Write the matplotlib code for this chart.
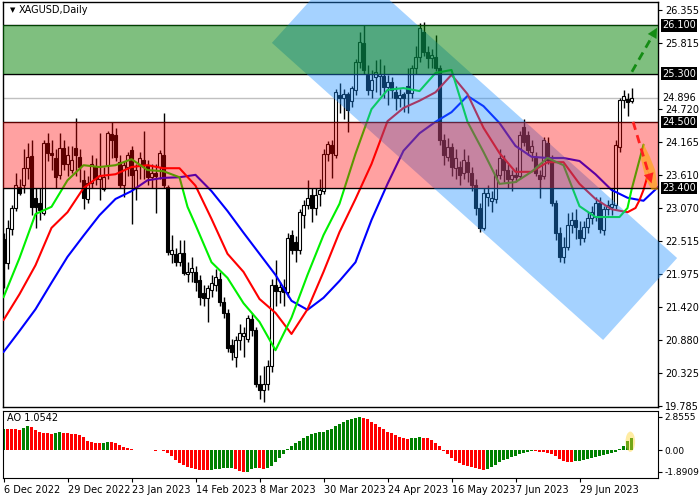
import numpy as np
import matplotlib.pyplot as plt
from matplotlib.patches import Polygon, Ellipse

# ---- daily candles, 6 Dec 2022 .. 13 Jul 2023 ----
opens = [
    22.55, 22.15, 22.72, 23.07, 23.42, 23.45, 23.73, 23.93, 23.23, 23.15,
    22.99, 24.15, 23.98, 23.90, 23.62, 24.07, 23.80, 23.70, 24.07, 23.92,
    23.53, 23.22, 23.48, 23.75, 23.55, 23.38, 23.78, 24.30, 24.28, 23.83,
    23.45, 23.75, 24.03, 23.42, 23.78, 23.87, 23.78, 23.58, 23.65, 23.75,
    23.95, 23.42, 22.30, 22.30, 22.18, 22.32, 21.97, 22.00, 22.00, 21.87,
    21.66, 21.58, 21.71, 21.80, 21.90, 21.51, 21.33, 20.80, 20.60, 20.88,
    20.95, 20.90, 21.23, 21.05, 20.15, 20.05, 20.15, 20.45, 21.79, 21.70,
    21.76, 21.68, 22.62, 22.50, 22.37, 22.95, 23.12, 23.28, 23.07, 23.30,
    23.35, 23.97, 24.11, 23.95, 24.95, 24.90, 24.96, 24.84, 25.03, 25.49,
    25.80, 25.28, 25.03, 25.24, 25.26, 25.26, 25.08, 25.16, 24.99, 24.89,
    24.96, 25.10, 24.98, 25.39, 25.57, 25.99, 25.66, 25.56, 25.57, 25.39,
    24.20, 23.92, 24.08, 23.73, 23.75, 23.65, 23.83, 23.65, 23.45, 23.07,
    22.74, 23.25, 23.18, 23.22, 23.62, 23.88, 23.70, 23.55, 23.62, 23.60,
    24.41, 24.28, 24.00, 23.90, 23.62, 23.60, 24.15, 23.87, 23.15, 22.65,
    22.25, 22.42, 22.79, 22.87, 22.70, 22.57, 22.75, 22.90, 22.92, 23.15,
    22.70, 23.05, 23.08, 23.12, 24.08, 24.86, 24.88, 24.84,
]
highs = [
    22.65, 22.87, 23.12, 23.65, 23.55, 24.05, 24.15, 24.20, 23.40, 23.40,
    24.20, 24.31, 24.20, 24.05, 24.31, 24.20, 24.10, 24.10, 24.56, 24.05,
    23.70, 23.60, 23.95, 23.90, 24.31, 23.75, 24.35, 24.50, 24.40, 23.95,
    23.85, 24.00, 24.10, 23.80, 24.00, 24.35, 23.87, 23.80, 23.80, 24.03,
    24.64, 23.45, 22.63, 22.40, 22.54, 22.54, 22.17, 22.25, 22.10, 21.95,
    21.80, 21.80, 21.95, 22.05, 22.00, 21.60, 21.40, 20.90, 20.95, 21.15,
    21.10, 21.30, 21.32, 21.10, 20.30, 20.45, 20.55, 21.90, 22.20, 21.85,
    21.90, 22.65, 22.70, 22.60, 23.05, 23.20, 23.53, 23.40, 23.40, 23.55,
    24.05, 24.18, 24.20, 25.05, 25.14, 25.05, 25.00, 25.10, 25.55, 25.99,
    26.11, 25.45, 25.36, 25.53, 25.55, 25.45, 25.27, 25.25, 25.10, 25.05,
    25.00, 25.40, 25.45, 25.75, 26.14, 26.15, 25.75, 25.70, 25.94, 25.45,
    24.30, 24.23, 24.15, 24.05, 23.85, 24.05, 23.95, 23.75, 23.55, 23.15,
    23.40, 23.45, 23.35, 23.72, 24.05, 23.95, 23.80, 23.70, 23.75, 24.35,
    24.55, 24.35, 24.20, 24.00, 23.70, 24.25, 24.25, 23.95, 23.20, 22.75,
    22.59, 22.99, 23.00, 23.05, 22.85, 22.85, 23.00, 23.10, 23.25, 23.25,
    23.10, 23.20, 23.40, 24.20, 24.90, 25.03, 24.98, 25.06,
]
lows = [
    21.75, 22.05, 22.62, 23.02, 23.28, 23.32, 23.55, 22.95, 22.74, 22.87,
    22.95, 23.85, 23.70, 23.40, 23.55, 23.70, 23.60, 23.65, 23.60, 23.50,
    23.05, 23.15, 23.40, 23.45, 23.20, 23.35, 23.55, 23.90, 23.85, 23.40,
    23.25, 23.60, 22.80, 23.20, 23.55, 23.55, 23.45, 23.40, 22.99, 23.55,
    23.40, 22.29, 22.15, 22.10, 22.10, 21.95, 21.84, 21.85, 21.70, 21.46,
    21.45, 21.18, 21.60, 21.70, 21.45, 21.25, 20.68, 20.55, 20.43, 20.72,
    20.60, 20.85, 20.95, 20.10, 19.90, 19.85, 20.05, 20.35, 21.45, 21.50,
    21.45, 21.60, 22.30, 22.17, 22.30, 22.74, 23.05, 22.84, 22.95, 23.10,
    23.30, 23.85, 23.57, 23.90, 24.64, 24.55, 24.33, 24.75, 24.95, 25.40,
    25.30, 24.95, 24.90, 25.00, 24.95, 24.90, 24.78, 24.90, 24.70, 24.75,
    24.66, 24.65, 24.90, 25.30, 25.50, 25.60, 25.39, 25.40, 25.35, 24.11,
    23.78, 23.85, 23.60, 23.55, 23.45, 23.55, 23.50, 23.35, 22.95, 22.67,
    22.70, 23.10, 23.00, 23.15, 23.55, 23.50, 23.40, 23.35, 23.50, 23.55,
    24.10, 23.95, 23.85, 23.60, 23.24, 23.55, 23.80, 23.10, 22.54, 22.17,
    22.15, 22.38, 22.65, 22.55, 22.45, 22.50, 22.65, 22.80, 22.85, 22.65,
    22.62, 22.95, 22.95, 23.05, 24.00, 24.73, 24.60, 24.82,
]
closes = [
    22.15, 22.74, 23.07, 23.45, 23.32, 23.73, 23.92, 23.09, 23.09, 23.03,
    24.15, 23.98, 23.95, 23.58, 24.07, 23.80, 23.95, 23.87, 23.95, 23.75,
    23.23, 23.48, 23.80, 23.55, 23.60, 23.58, 24.31, 24.20, 23.92, 23.45,
    23.78, 23.95, 23.62, 23.70, 23.90, 23.80, 23.58, 23.65, 23.60, 23.98,
    23.45, 22.34, 22.38, 22.17, 22.32, 21.99, 22.01, 22.07, 21.84, 21.59,
    21.58, 21.74, 21.82, 21.92, 21.51, 21.33, 20.75, 20.68, 20.88, 21.00,
    21.00, 21.25, 21.05, 20.15, 20.05, 20.15, 20.45, 21.79, 21.70, 21.76,
    21.68, 22.57, 22.37, 22.37, 23.00, 23.12, 23.23, 23.07, 23.28, 23.37,
    23.97, 24.14, 23.98, 24.99, 24.90, 24.96, 24.70, 25.06, 25.49, 25.82,
    25.36, 25.03, 25.19, 25.32, 25.30, 25.08, 25.16, 25.03, 24.89, 24.94,
    24.89, 24.98, 25.39, 25.57, 26.05, 25.66, 25.56, 25.61, 25.39, 24.20,
    23.95, 24.08, 23.75, 23.90, 23.62, 23.87, 23.67, 23.45, 23.07, 22.74,
    23.32, 23.32, 23.23, 23.62, 23.90, 23.70, 23.55, 23.62, 23.58, 24.28,
    24.17, 24.03, 24.10, 23.65, 23.55, 24.20, 23.87, 23.15, 22.65, 22.25,
    22.42, 22.79, 22.87, 22.75, 22.57, 22.75, 22.90, 23.00, 23.15, 22.72,
    23.05, 23.12, 23.14, 24.11, 24.86, 24.93, 24.83, 24.896,
]

# ---- Alligator lines (sampled from the chart, bar index -> price) ----
jaw_idx = list(range(0, 165, 4))
jaw = [20.68, 21.03, 21.39, 21.83, 22.26, 22.61, 22.95, 23.22, 23.35, 23.53,
       23.57, 23.58, 23.62, 23.35, 23.02, 22.66, 22.31, 21.96, 21.53, 21.38,
       21.58, 21.86, 22.17, 22.87, 23.47, 24.02, 24.31, 24.50, 24.66, 24.93,
       24.76, 24.48, 24.10, 23.92, 23.90, 23.90, 23.85, 23.63, 23.37, 23.24,
       23.19, 23.44]
teeth_idx = list(range(0, 157, 4)) + [158, 159, 160, 161]
teeth = [21.21, 21.64, 22.12, 22.74, 23.00, 23.40, 23.60, 23.63, 23.75, 23.78,
         23.73, 23.73, 23.44, 22.89, 22.31, 22.01, 21.56, 21.33, 20.98, 21.39,
         22.01, 22.67, 23.22, 23.80, 24.51, 24.73, 24.85, 24.99, 25.28, 24.96,
         24.40, 23.98, 23.67, 23.67, 23.83, 23.83, 23.47, 23.22, 23.05, 23.00,
         23.07, 23.20, 23.37, 23.60]
lips_idx = [0, 4, 8, 12, 16, 20, 24, 28, 32, 36, 40, 44, 46, 48, 52, 56, 60,
            64, 68, 72, 76, 80, 84, 88, 92, 96, 100, 104, 108, 112, 114, 116,
            120, 124, 128, 132, 136, 140, 144, 148, 152, 154, 156, 157, 158,
            159, 160]
lips = [21.59, 22.24, 22.97, 23.09, 23.53, 23.78, 23.75, 23.78, 23.88, 23.70,
        23.68, 23.58, 23.09, 22.79, 22.17, 21.91, 21.49, 21.18, 20.71, 21.25,
        21.96, 22.62, 23.14, 23.97, 24.71, 25.03, 25.06, 25.01, 25.31, 25.36,
        24.93, 24.50, 24.00, 23.47, 23.50, 23.67, 23.90, 23.78, 23.10, 22.92,
        22.92, 22.92, 23.07, 23.37, 23.62, 23.87, 24.12]

# ---- Awesome Oscillator ----
ao = [
    1.85, 1.83, 1.82, 1.81, 1.76, 1.90, 2.08, 1.95, 1.72, 1.58,
    1.50, 1.45, 1.42, 1.48, 1.56, 1.50, 1.46, 1.42, 1.38, 1.30,
    1.10, 0.80, 0.66, 0.64, 0.64, 0.65, 0.66, 0.66, 0.60, 0.45,
    0.30, 0.15, 0.05, 0.03, 0.04, 0.02, -0.03, -0.02, -0.04, -0.03,
    -0.10, -0.25, -0.55, -0.85, -1.10, -1.30, -1.45, -1.55, -1.62, -1.68,
    -1.72, -1.74, -1.70, -1.66, -1.62, -1.58, -1.56, -1.55, -1.65, -1.82,
    -1.89, -1.85, -1.60, -1.55, -1.58, -1.62, -1.55, -1.35, -1.05, -0.65,
    -0.30, 0.05, 0.35, 0.60, 0.80, 1.00, 1.20, 1.35, 1.45, 1.55,
    1.60, 1.70, 1.85, 2.05, 2.25, 2.45, 2.60, 2.72, 2.80, 2.8555,
    2.80, 2.70, 2.45, 2.25, 2.00, 1.80, 1.60, 1.45, 1.30, 1.15,
    1.02, 0.95, 1.00, 1.05, 1.10, 1.08, 1.02, 0.85, 0.65, 0.35,
    -0.05, -0.35, -0.65, -0.95, -1.15, -1.30, -1.40, -1.45, -1.55, -1.65,
    -1.72, -1.60, -1.45, -1.25, -1.05, -0.90, -0.75, -0.60, -0.48, -0.38,
    -0.28, -0.18, -0.10, -0.12, -0.13, -0.14, -0.25, -0.38, -0.55, -0.75,
    -0.92, -1.00, -1.01, -0.98, -0.92, -0.85, -0.76, -0.67, -0.58, -0.50,
    -0.42, -0.33, -0.25, -0.15, 0.10, 0.35, 0.78, 1.0542,
]

price_ticks = [26.355, 25.815, 24.720, 24.165, 23.610, 23.070, 22.515,
               21.975, 21.420, 20.880, 20.325, 19.785]
level_marks = [26.100, 25.300, 24.500, 23.400]
last_price = 24.896
date_idx = [0, 16, 32, 48, 64, 80, 96, 112, 128, 144]
date_labels = ['6 Dec 2022', '29 Dec 2022', '23 Jan 2023', '14 Feb 2023',
               '8 Mar 2023', '30 Mar 2023', '24 Apr 2023', '16 May 2023',
               '7 Jun 2023', '29 Jun 2023']

# drawing objects (bar index, price)
channel = [(67.1, 25.81), (85.6, 27.17), (168.4, 22.24), (149.9, 20.88)]
fan = [(159.9, 24.15), (161.6, 23.92), (162.9, 23.70), (163.6, 23.37),
       (162.1, 23.37), (160.6, 23.54), (159.4, 23.87)]
up_arrow = [(157.1, 25.33), (163.4, 26.06)]
down_arrow = [(157.4, 24.50), (162.0, 23.48)]

fig = plt.figure(figsize=(7, 5), dpi=100)
ax = fig.add_axes([3 / 700, 93 / 500, 655 / 700, 405 / 500])
ax2 = fig.add_axes([3 / 700, 22 / 500, 655 / 700, 67 / 500])

idx = np.arange(len(closes))
o, h, l, c = (np.array(a) for a in (opens, highs, lows, closes))
up = c >= o

# candles
ax.vlines(idx, l, h, color='black', lw=1, zorder=2)
ax.bar(idx[up], (c - o)[up], bottom=o[up], width=0.62, color='white',
       edgecolor='black', lw=0.8, zorder=3)
ax.bar(idx[~up], (o - c)[~up], bottom=c[~up], width=0.62, color='black',
       edgecolor='black', lw=0.8, zorder=3)

# alligator
line_kw = dict(lw=1.5, zorder=4, solid_joinstyle='round', solid_capstyle='round')
ax.plot(jaw_idx, jaw, color='#0000ff', **line_kw)
ax.plot(teeth_idx, teeth, color='#ff0000', **line_kw)
ax.plot(lips_idx, lips, color='#00f000', **line_kw)

# levels
ax.axhline(last_price, color='#c0c0c0', lw=1, zorder=1)
for p in level_marks:
    ax.axhline(p, color='black', lw=1, zorder=4)

ax.add_patch(Polygon(channel, closed=True, fc='#1e90ff', ec='none',
                     alpha=0.4, zorder=5, clip_on=False))
ax.axhspan(level_marks[1], level_marks[0], fc='#008000', alpha=0.5, lw=0, zorder=6)
ax.axhspan(level_marks[3], level_marks[2], fc='#ff0000', alpha=0.37, lw=0, zorder=6)
ax.add_patch(Polygon(fan, closed=True, fc='#ffa500', ec='none', alpha=0.6, zorder=7))

# forecast arrows
for pts, col in ((up_arrow, '#148c14'), (down_arrow, '#ff2020')):
    (x0, y0), (x1, y1) = pts
    ax.plot([x0, x0 + 0.85 * (x1 - x0)], [y0, y0 + 0.85 * (y1 - y0)],
            color=col, lw=2, ls=(0, (3, 2)), zorder=8)
    ax.annotate('', xy=(x1, y1), xytext=(x0 + 0.7 * (x1 - x0), y0 + 0.7 * (y1 - y0)),
                arrowprops=dict(arrowstyle='-|>,head_length=0.7,head_width=0.35',
                                color=col, lw=0.1, shrinkA=0, shrinkB=0), zorder=8)

ax.set_xlim(-0.125, 163.625)
ax.set_ylim(19.768, 26.488)
ax.yaxis.tick_right()
ax.set_yticks(price_ticks)
ax.set_yticklabels([f'{t:.3f}' for t in price_ticks])
ax.tick_params(axis='y', labelsize=7, length=3, pad=2, width=0.8)
ax.set_xticks([])
for s in ax.spines.values():
    s.set_linewidth(1)

ytr = ax.get_yaxis_transform()
for p in level_marks:
    ax.text(1.006, p, f'{p:.3f}', transform=ytr, fontsize=7, color='white',
            va='center', ha='left', zorder=10, clip_on=False,
            bbox=dict(boxstyle='square,pad=0.12', fc='black', ec='none'))
ax.text(1.006, last_price, f'{last_price:.3f}', transform=ytr, fontsize=7,
        color='black', va='center', ha='left', zorder=10, clip_on=False,
        bbox=dict(boxstyle='square,pad=0.12', fc='white', ec='none'))

ax.text(0.0107, 0.980, '\u25bc', transform=ax.transAxes, fontsize=5, va='center')
ax.text(0.024, 0.980, 'XAGUSD,Daily', transform=ax.transAxes, fontsize=7, va='center')

# AO panel
ao_arr = np.array(ao)
rising = np.concatenate([[True], ao_arr[1:] > ao_arr[:-1]])
ax2.bar(idx, ao_arr, width=0.65, color=np.where(rising, '#008000', '#ff0000'), zorder=2)
ax2.add_patch(Ellipse((156.7, 0.72), 2.4, 1.75, fc='#ffd633', ec='none', alpha=0.45, zorder=3))
ax2.set_xlim(-0.125, 163.625)
ax2.set_ylim(-2.41, 3.37)
ax2.yaxis.tick_right()
ax2.set_yticks([2.8555, 0.0, -1.8909])
ax2.set_yticklabels(['2.8555', '0.00', '-1.8909'])
ax2.tick_params(axis='y', labelsize=6.5, length=3, pad=1.5, width=0.8)
ax2.set_xticks(date_idx)
ax2.set_xticklabels(date_labels, ha='left')
ax2.tick_params(axis='x', labelsize=7, length=3, pad=2, width=0.8)
ax2.text(0.006, 0.90, 'AO 1.0542', transform=ax2.transAxes, fontsize=7, va='center')

fig.savefig('out.png', dpi=100)
